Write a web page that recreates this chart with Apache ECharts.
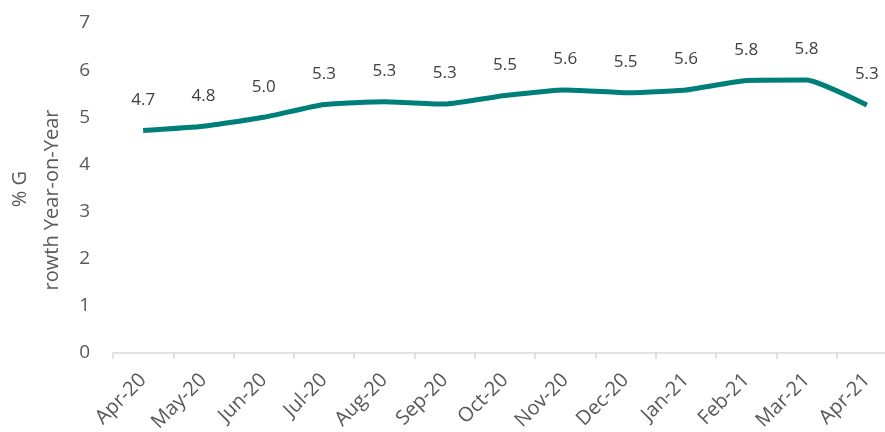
<!DOCTYPE html>
<html>
<head>
<meta charset="utf-8">
<script src="https://cdn.jsdelivr.net/npm/echarts@6/dist/echarts.min.js"></script>
<style>
  html, body { margin: 0; padding: 0; background: #fff; }
  #chart { width: 885px; height: 432px; }
</style>
</head>
<body>
<div id="chart"></div>
<script>
// months on the x axis
const months = ['Apr-20', 'May-20', 'Jun-20', 'Jul-20', 'Aug-20', 'Sep-20', 'Oct-20',
    'Nov-20', 'Dec-20', 'Jan-21', 'Feb-21', 'Mar-21', 'Apr-21'];
// % growth year-on-year
const growth = [4.72, 4.81, 5.0, 5.27, 5.33, 5.28, 5.46, 5.58, 5.52, 5.58, 5.78, 5.79, 5.26];

const textColor = '#595959';
const chart = echarts.init(document.getElementById('chart'));

const option = {
    backgroundColor: '#fff',
    textStyle: { fontFamily: 'Open Sans' },
    grid: {
        left: 113,
        right: -12,
        top: 23,
        bottom: 79,
        containLabel: false,
        outerBoundsMode: 'none'
    },
    xAxis: {
        type: 'category',
        data: months,
        boundaryGap: true,
        axisLine: { lineStyle: { color: '#D9D9D9', width: 1.5 } },
        axisTick: { show: true, length: 6, lineStyle: { color: '#D9D9D9', width: 1.5 } },
        axisLabel: {
            color: textColor,
            fontSize: 20,
            rotate: 45,
            margin: 24,
            interval: 0
        }
    },
    yAxis: {
        type: 'value',
        min: 0,
        max: 7,
        interval: 1,
        name: '{a|% G}\n{b|rowth Year-on-Year}',
        nameLocation: 'middle',
        nameRotate: 90,
        nameGap: 45,
        nameTextStyle: {
            color: textColor,
            fontSize: 20,
            lineHeight: 32,
            padding: [0, 0, 0, -24],
            rich: {
                a: { color: textColor, fontSize: 20, lineHeight: 32, padding: [0, 0, 0, 22] },
                b: { color: textColor, fontSize: 20, lineHeight: 32 }
            }
        },
        axisLine: { show: false },
        axisTick: { show: false },
        splitLine: { show: false },
        axisLabel: {
            color: textColor,
            fontSize: 19,
            margin: 23
        }
    },
    series: [{
        type: 'line',
        data: growth,
        smooth: 0.15,
        showSymbol: true,
        showAllSymbol: true,
        symbol: 'circle',
        symbolSize: 2,
        itemStyle: { color: 'rgba(0,0,0,0)' },
        lineStyle: { color: '#007E7A', width: 5 },
        label: {
            show: true,
            position: 'top',
            distance: 21,
            color: '#404040',
            fontSize: 17,
            formatter: p => p.value.toFixed(1)
        }
    }]
};
chart.setOption(option);
</script>
</body>
</html>
